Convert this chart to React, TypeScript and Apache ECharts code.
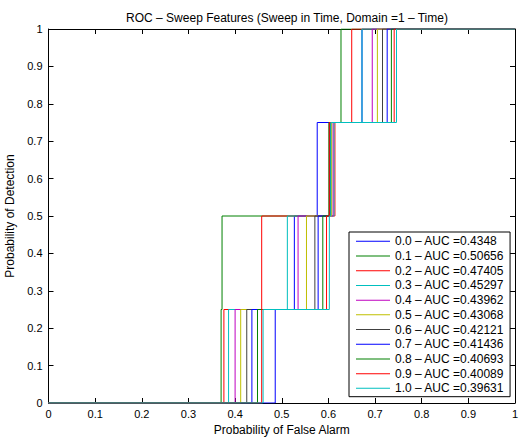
import React, { useEffect, useRef } from "react";
import * as echarts from "echarts";

// Sweep labels and AUC values (legend text)
const sweepLabels = ["0.0", "0.1", "0.2", "0.3", "0.4", "0.5", "0.6", "0.7", "0.8", "0.9", "1.0"];
const aucValues = ["0.4348", "0.50656", "0.47405", "0.45297", "0.43962", "0.43068", "0.42121", "0.41436", "0.40693", "0.40089", "0.39631"];

// Probability of false alarm at which each curve steps up to the given detection level
const pfStepTo25 = [0.486, 0.370, 0.376, 0.386, 0.400, 0.412, 0.425, 0.436, 0.448, 0.457, 0.460];
const pfStepTo50 = [0.527, 0.372, 0.457, 0.512, 0.535, 0.553, 0.571, 0.578, 0.588, 0.596, 0.602];
const pfStepTo75 = [0.576, 0.605, 0.614, 0.612, 0.610, 0.607, 0.603, 0.603, 0.601, 0.602, 0.605];
const pfStepTo100 = [0.672, 0.627, 0.650, 0.672, 0.694, 0.705, 0.716, 0.726, 0.735, 0.741, 0.746];
const pdLevels = [0, 0.25, 0.5, 0.75, 1];

const axisTicks = [0, 0.1, 0.2, 0.3, 0.4, 0.5, 0.6, 0.7, 0.8, 0.9, 1];

const colors = [
  "#0000ff", "#008000", "#ff0000", "#00bfbf", "#bf00bf", "#bfbf00", "#404040",
  "#0000ff", "#008000", "#ff0000", "#00bfbf",
];

const FONT = "'Liberation Sans', Arial, Helvetica, sans-serif";

function buildCurve(i: number): number[][] {
  const steps = [pfStepTo25[i], pfStepTo50[i], pfStepTo75[i], pfStepTo100[i]];
  const pts: number[][] = [[0, pdLevels[0]]];
  steps.forEach((x, k) => {
    pts.push([x, pdLevels[k]]);
    pts.push([x, pdLevels[k + 1]]);
  });
  pts.push([1, 1]);
  return pts;
}

const fmt = (v: number) => String(axisTicks.find((t) => Math.abs(t - v) < 1e-9) ?? v);

function makeAxis(position: string, withLabels: boolean, name?: string, nameGap?: number, margin?: number): any {
  return {
    type: "value",
    min: 0,
    max: 1,
    interval: 0.1,
    position,
    name: name,
    nameLocation: "middle",
    nameGap: nameGap,
    nameTextStyle: { fontFamily: FONT, fontSize: 12, color: "#000" },
    axisLine: { show: true, onZero: false, lineStyle: { color: "#000", width: 1 } },
    axisTick: { show: true, inside: true, length: 5, lineStyle: { color: "#000", width: 1 } },
    splitLine: { show: false },
    axisLabel: withLabels
      ? { show: true, inside: false, margin: margin, fontFamily: FONT, fontSize: 11, color: "#000", formatter: fmt }
      : { show: false },
  };
}

export default function App() {
  const ref = useRef<HTMLDivElement>(null);
  useEffect(() => {
    if (!ref.current) return;
    const chart = echarts.init(ref.current, undefined, { renderer: "svg" });
    const names = sweepLabels.map((s, i) => `${s} \u2013 AUC =${aucValues[i]}`);
    const option: any = {
      animation: false,
      backgroundColor: "#fff",
      color: colors,
      title: {
        text: "ROC \u2013 Sweep Features (Sweep in Time, Domain =1 \u2013 Time)",
        left: 282,
        textAlign: "center",
        top: 7,
        textStyle: { fontFamily: FONT, fontSize: 12, fontWeight: "normal", color: "#000" },
      },
      grid: {
        left: 48.5,
        top: 29,
        width: 466.5,
        height: 374,
        containLabel: false,
        outerBoundsMode: "none",
      },
      legend: {
        orient: "vertical",
        left: 349,
        top: 232,
        width: 160,
        padding: [2, 6, 1, 7],
        itemGap: 0,
        itemWidth: 34,
        itemHeight: 1,
        icon: "rect",
        backgroundColor: "#fff",
        borderColor: "#000",
        borderWidth: 1,
        borderRadius: 0,
        data: names,
        textStyle: { fontFamily: FONT, fontSize: 12, color: "#000", lineHeight: 14.7 },
      },
      xAxis: [
        makeAxis("bottom", true, "Probability of False Alarm", 21, 5),
        makeAxis("top", false),
      ],
      yAxis: [
        makeAxis("left", true, "Probability of Detection", 29, 6),
        makeAxis("right", false),
      ],
      series: names.map((n, i) => ({
        name: n,
        type: "line",
        xAxisIndex: 0,
        yAxisIndex: 0,
        data: buildCurve(i),
        symbol: "none",
        lineStyle: { width: 1, color: colors[i] },
        itemStyle: { color: colors[i] },
        emphasis: { disabled: true },
      })),
    };
    chart.setOption(option);
    return () => chart.dispose();
  }, []);
  return (
    <div
      ref={ref}
      style={{ position: "fixed", left: 0, top: 0, width: 519, height: 439, background: "#fff" }}
    />
  );
}
